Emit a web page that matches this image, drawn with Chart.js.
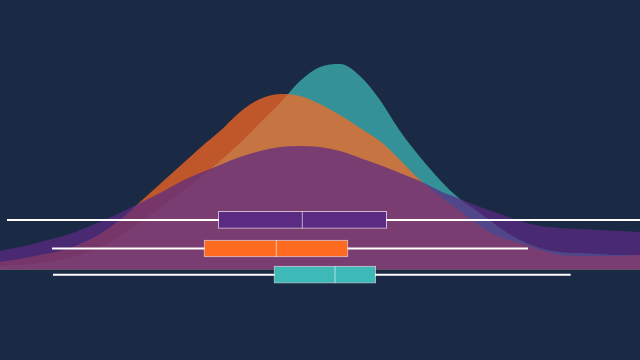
<!DOCTYPE html>
<html>
<head>
<meta charset="utf-8">
<script src="https://cdn.jsdelivr.net/npm/chart.js@4/dist/chart.umd.min.js"></script>
<style>
  html, body { margin: 0; padding: 0; background: #1b2a44; }
  canvas { display: block; }
</style>
</head>
<body>
<canvas id="c" width="640" height="360"></canvas>
<script>
// ---- data ----
const gridX = [-3.2,-3.0,-2.8,-2.6,-2.4,-2.2,-2.0,-1.8,-1.6,-1.4,-1.2,-1.0,-0.8,-0.6,-0.4,-0.2,0.0,
               0.2,0.4,0.6,0.8,1.0,1.2,1.4,1.6,1.8,2.0,2.2,2.4,2.6,2.8,3.0,3.2];

const tealDensity = [0.009,0.011,0.016,0.024,0.036,0.056,0.084,0.119,0.154,0.191,0.229,0.271,0.316,0.366,0.416,0.471,0.506,
                     0.514,0.484,0.424,0.346,0.281,0.224,0.176,0.141,0.104,0.074,0.054,0.044,0.041,0.039,0.036,0.036];

const orangeDensity = [0.019,0.026,0.036,0.046,0.064,0.089,0.124,0.169,0.214,0.259,0.304,0.346,0.394,0.426,0.439,0.434,0.414,
                       0.386,0.354,0.321,0.274,0.224,0.184,0.146,0.109,0.081,0.066,0.049,0.036,0.034,0.034,0.034,0.036];

const purpleDensity = [0.046,0.056,0.069,0.081,0.099,0.119,0.141,0.166,0.191,0.219,0.241,0.261,0.281,0.296,0.306,0.309,0.306,
                       0.296,0.279,0.261,0.241,0.221,0.196,0.176,0.156,0.139,0.121,0.109,0.104,0.101,0.099,0.096,0.094];

// box plot statistics: [min, q1, median, q3, max]
const purpleBox = [-3.13, -1.017, -0.177, 0.667, 3.3];
const orangeBox = [-2.68, -1.16, -0.437, 0.28, 2.08];
const tealBox   = [-2.67, -0.46, 0.15, 0.557, 2.507];

// vertical position of each box row (in density units)
const boxRows = [0.124, 0.0525, -0.013];

// ---- styling ----
const BG = '#1b2a44';
const TEAL = '61,186,183', ORANGE = '255,106,33', PURPLE = '91,42,131';
const FILL_ALPHA = 0.72;
const BOX_HALF = 8.5 / 400; // half box height in density units

function densitySet(label, values, rgb, order) {
  return {
    type: 'line', label,
    data: gridX.map((x, i) => ({ x, y: values[i] })),
    backgroundColor: `rgba(${rgb},${FILL_ALPHA})`,
    borderWidth: 0, borderColor: 'rgba(0,0,0,0)',
    pointRadius: 0, fill: 'origin',
    cubicInterpolationMode: 'monotone',
    order
  };
}

const boxes = [purpleBox, orangeBox, tealBox];
const boxColors = [`rgb(${PURPLE})`, `rgb(${ORANGE})`, `rgb(${TEAL})`];

const whiskerSets = boxes.map((b, i) => ({
  type: 'line', label: 'whisker' + i,
  data: [{ x: b[0], y: boxRows[i] }, { x: b[4], y: boxRows[i] }],
  borderColor: '#ffffff', borderWidth: 2,
  pointRadius: 0, fill: false, tension: 0,
  order: 5
}));

const medianSets = boxes.map((b, i) => ({
  type: 'line', label: 'median' + i,
  data: [{ x: b[2], y: boxRows[i] - BOX_HALF }, { x: b[2], y: boxRows[i] + BOX_HALF }],
  borderColor: 'rgba(255,255,255,0.6)', borderWidth: 1,
  pointRadius: 0, fill: false, tension: 0,
  order: 1
}));

const boxSet = {
  type: 'bar', label: 'boxes',
  indexAxis: 'y',
  data: boxes.map((b, i) => ({ y: boxRows[i], x: [b[1], b[3]] })),
  backgroundColor: boxColors,
  borderColor: 'rgba(255,255,255,0.65)',
  borderWidth: 1, borderSkipped: false,
  barThickness: 17,
  order: 3
};

new Chart(document.getElementById('c'), {
  type: 'line',
  data: {
    datasets: [
      densitySet('teal', tealDensity, TEAL, 10),
      densitySet('orange', orangeDensity, ORANGE, 9),
      densitySet('purple', purpleDensity, PURPLE, 8),
      ...whiskerSets,
      boxSet,
      ...medianSets
    ]
  },
  options: {
    responsive: false,
    animation: false,
    layout: { padding: 0 },
    plugins: { legend: { display: false }, tooltip: { enabled: false }, title: { display: false } },
    scales: {
      x: { type: 'linear', min: -3.2, max: 3.2, display: false, offset: false, grid: { display: false } },
      y: { type: 'linear', min: -90.5 / 400, max: 269.5 / 400, display: false, offset: false, grid: { display: false } }
    }
  }
});
</script>
</body>
</html>
